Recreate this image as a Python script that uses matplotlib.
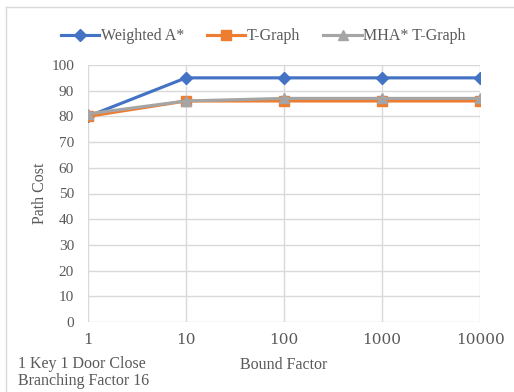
import matplotlib.pyplot as plt
from matplotlib.lines import Line2D

bound_factor = [1, 10, 100, 1000, 10000]
tick_labels = ['1', '10', '100', '1000', '10000']
weighted_astar = [80, 95, 95, 95, 95]
t_graph = [80, 86, 86, 86, 86]
mha_t_graph = [81, 86, 87, 87, 87]

plt.rcParams['font.family'] = ['Liberation Serif', 'DejaVu Serif']
text_color = '#595959'
grid_color = '#d9d9d9'

fig = plt.figure(figsize=(5.14, 3.92), dpi=100)
W, H = 514, 392
ax = fig.add_axes([88 / W, 1 - 322 / H, (480 - 88) / W, (322 - 65) / H])

# outer chart border (top and left only are visible)
fig.add_artist(Line2D([6 / W, 1], [1 - 7 / H, 1 - 7 / H], transform=fig.transFigure,
                      color=grid_color, linewidth=1))
fig.add_artist(Line2D([6 / W, 6 / W], [0, 1 - 7 / H], transform=fig.transFigure,
                      color=grid_color, linewidth=1))

ax.plot(bound_factor, weighted_astar, color='#4472c4', marker='D', markersize=6,
        linewidth=2.25, label='Weighted A*', zorder=3)
ax.plot(bound_factor, t_graph, color='#ed7d31', marker='s', markersize=7,
        linewidth=2.25, label='T-Graph', zorder=4)
ax.plot(bound_factor, mha_t_graph, color='#a5a5a5', marker='^', markersize=7,
        linewidth=2.25, label='MHA* T-Graph', zorder=5)

ax.set_xscale('log')
ax.set_xlim(1, 10000)
ax.set_ylim(0, 100)
ax.set_yticks(range(0, 101, 10))
ax.set_xticks(bound_factor)
ax.set_xticklabels(tick_labels, fontfamily='DejaVu Serif', fontsize=11)
ax.minorticks_off()
ax.grid(True, color=grid_color, linewidth=1)
ax.set_axisbelow(True)
for s in ax.spines.values():
    s.set_visible(False)
ax.tick_params(axis='y', length=0, labelsize=11, colors=text_color, pad=10)
ax.tick_params(axis='x', length=0, colors=text_color, pad=8)
ax.set_xlabel('Bound Factor', fontsize=11.5, color=text_color, labelpad=7)
ax.set_ylabel('Path Cost', fontsize=11.5, color=text_color, labelpad=2)

ax.legend(loc='lower center', bbox_to_anchor=(0.447, 1.025), ncol=3, frameon=False,
          prop={'size': 11.5}, labelcolor=text_color, handlelength=2.4,
          handletextpad=0.1, columnspacing=1.45)

fig.text(18 / W, 1 - 364 / H, '1 Key 1 Door Close', fontsize=11.5, color=text_color,
         va='center')
fig.text(18 / W, 1 - 381 / H, 'Branching Factor 16', fontsize=11.5, color=text_color,
         va='center')

fig.savefig('out.png', dpi=100)
